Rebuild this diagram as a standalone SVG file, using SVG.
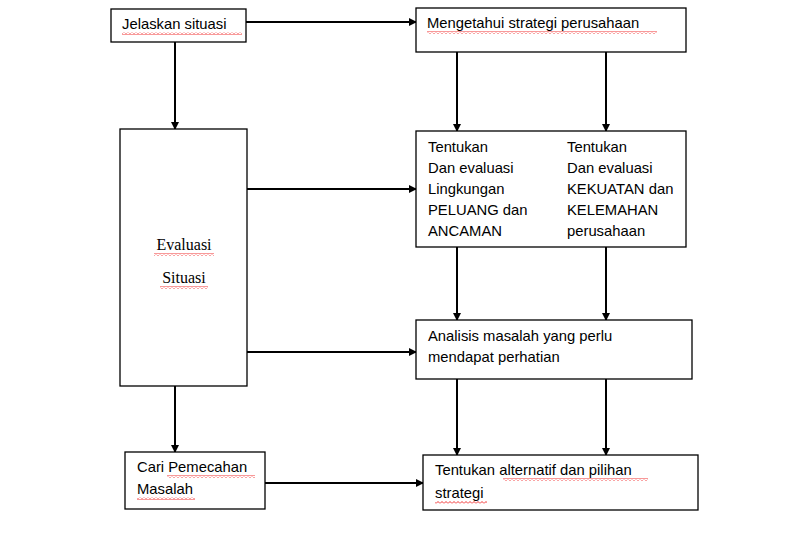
<svg xmlns="http://www.w3.org/2000/svg" width="790" height="535" viewBox="0 0 790 535">
<style>
.b{fill:#fff;stroke:#000;stroke-width:1.3}
.t{font-family:"Liberation Sans",Arial,sans-serif;font-size:14.8px;fill:#000}
.s{font-family:"Liberation Serif",serif;font-size:16px;fill:#000}
.c{stroke:#000;stroke-width:2;fill:none;marker-end:url(#a)}
.w{fill:url(#z)}
</style>
<defs>
<marker id="a" markerWidth="8" markerHeight="8" refX="7" refY="4" orient="auto" markerUnits="userSpaceOnUse"><path d="M0,0L8,4L0,8z" fill="#000"/></marker>
<pattern id="z" width="4" height="3" patternUnits="userSpaceOnUse"><path d="M0,2.5L2,0.5L4,2.5" stroke="#e00" stroke-width="0.8" fill="none"/></pattern>
</defs>
<rect width="790" height="535" fill="#fff"/>
<g id="connectors">
<path class="c" d="M246,22H416"/>
<path class="c" d="M175,42V129"/>
<path class="c" d="M457,52V131"/>
<path class="c" d="M606,52V131"/>
<path class="c" d="M247,189H416"/>
<path class="c" d="M457,247V320"/>
<path class="c" d="M606,247V320"/>
<path class="c" d="M247,352H416"/>
<path class="c" d="M175,386V452"/>
<path class="c" d="M457,379V455"/>
<path class="c" d="M606,379V455"/>
<path class="c" d="M265,483H423"/>
</g>
<g id="n1"><rect class="b" x="111" y="9" width="135" height="33"/><text class="t" x="122" y="29">Jelaskan situasi</text><rect class="w" x="122" y="32" width="120" height="3"/></g>
<g id="n2"><rect class="b" x="416" y="8" width="270" height="44"/><text class="t" x="427" y="28">Mengetahui strategi perusahaan</text><rect class="w" x="427" y="31" width="230" height="3"/></g>
<g id="n3"><rect class="b" x="120" y="129" width="127" height="257"/><text class="s" x="184" y="250" text-anchor="middle">Evaluasi</text><text class="s" x="184" y="283" text-anchor="middle">Situasi</text><rect class="w" x="154" y="253" width="60" height="3"/><rect class="w" x="160" y="286" width="48" height="3"/></g>
<g id="n4"><rect class="b" x="416" y="131" width="270" height="116"/>
<text class="t" x="428" y="152">Tentukan</text><text class="t" x="428" y="173">Dan evaluasi</text><text class="t" x="428" y="194">Lingkungan</text><text class="t" x="428" y="215">PELUANG dan</text><text class="t" x="428" y="236">ANCAMAN</text>
<text class="t" x="567" y="152">Tentukan</text><text class="t" x="567" y="173">Dan evaluasi</text><text class="t" x="567" y="194">KEKUATAN dan</text><text class="t" x="567" y="215">KELEMAHAN</text><text class="t" x="567" y="236">perusahaan</text></g>
<g id="n5"><rect class="b" x="416" y="320" width="276" height="59"/><text class="t" x="428" y="341">Analisis masalah yang perlu</text><text class="t" x="428" y="362">mendapat perhatian</text></g>
<g id="n6"><rect class="b" x="125" y="452" width="140" height="57"/><text class="t" x="137" y="472">Cari Pemecahan</text><text class="t" x="137" y="494">Masalah</text><rect class="w" x="167" y="475" width="88" height="3"/><rect class="w" x="137" y="497" width="58" height="3"/></g>
<g id="n7"><rect class="b" x="423" y="455" width="275" height="55"/><text class="t" x="435" y="475">Tentukan alternatif dan pilihan</text><text class="t" x="435" y="498">strategi</text><rect class="w" x="503" y="478" width="145" height="3"/><rect class="w" x="435" y="501" width="52" height="3"/></g>
</svg>
